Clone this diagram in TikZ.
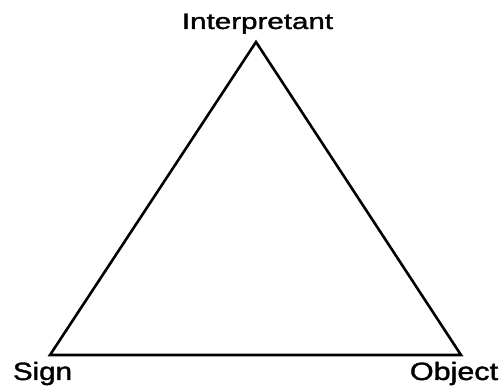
\documentclass[tikz,border=0pt]{standalone}
\usepackage{fontspec}
\setmainfont{Liberation Sans}
\newfontfamily\vertexfont[FakeBold=1.3]{Liberation Sans}
\usetikzlibrary{positioning}

\begin{document}
\begin{tikzpicture}[x=1pt,y=1pt,
    side/.style={line width=2.6pt, line join=miter},
    vertexlabel/.style={anchor=base, inner sep=0pt, font=\vertexfont\fontsize{25}{30}\selectfont}]

  \useasboundingbox (0,0) rectangle (501,390);

  % Corners of the triangle
  \coordinate (interp) at (256,348);
  \coordinate (sign)   at (50,35);
  \coordinate (object) at (461,35);

  % Sides
  \draw[side] (sign) -- (interp) -- (object) -- cycle;

  % Labels
  \node[vertexlabel, font=\vertexfont\fontsize{22.4}{27}\selectfont, xscale=1.32] (interpLabel) at (257.5,361) {Interpretant};
  \node[vertexlabel, xscale=1.18] (signLabel) at (42.5,10) {Sign};
  \node[vertexlabel, xscale=1.22] (objectLabel) at (454,10) {Object};

\end{tikzpicture}
\end{document}
